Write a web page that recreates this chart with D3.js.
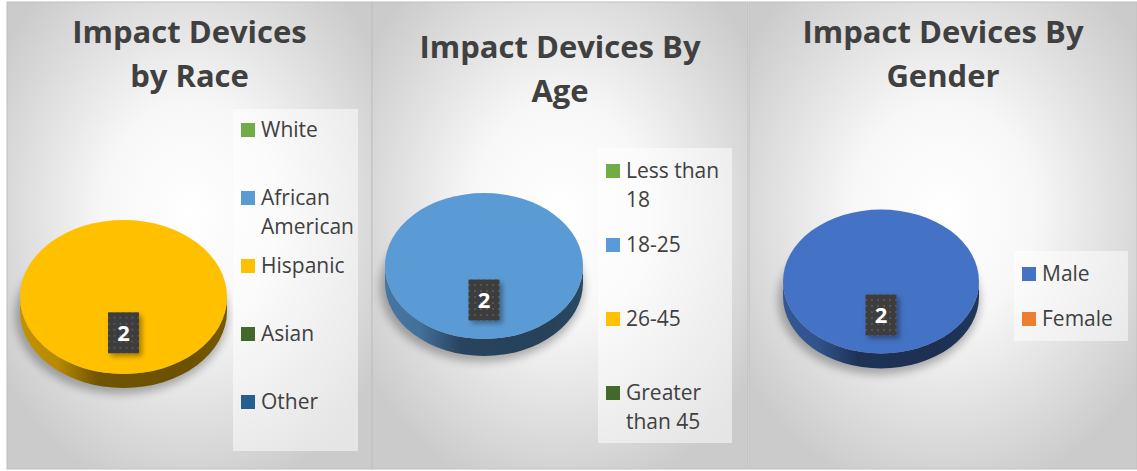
<!DOCTYPE html>
<html lang="en">
  <head>
    <meta charset="UTF-8" />
    <title>Impact Devices</title>
    <script src="https://d3js.org/d3.v7.min.js"></script>
    <style>
      body {
        margin: 0;
        background: #ffffff;
      }
      svg {
        display: block;
      }
    </style>
  </head>
  <body>
    <script>
      // Data
      const raceCategories = ["White", "African American", "Hispanic", "Asian", "Other"];
      const raceValues = [0, 0, 2, 0, 0];
      const raceColors = ["#70ad47", "#5b9bd5", "#ffc000", "#43682b", "#255e91"];

      const ageCategories = ["Less than 18", "18-25", "26-45", "Greater than 45"];
      const ageValues = [0, 2, 0, 0];
      const ageColors = ["#70ad47", "#5b9bd5", "#ffc000", "#43682b"];

      const genderCategories = ["Male", "Female"];
      const genderValues = [2, 0];
      const genderColors = ["#4472c4", "#ed7d31"];

      const titles = [
        ["Impact Devices", "by Race"],
        ["Impact Devices By", "Age"],
        ["Impact Devices By", "Gender"],
      ];

      // layout of the three panels
      const panels = [
        {
          cats: raceCategories, vals: raceValues, colors: raceColors, title: titles[0],
          x0: 7, x1: 372, titleY: 43,
          cx: 123.5, cy: 297, rx: 103.5, ry: 77, depth: 14,
          legend: { x: 233, y: 109, w: 125, h: 342, first: 130, step: 68 },
        },
        {
          cats: ageCategories, vals: ageValues, colors: ageColors, title: titles[1],
          x0: 372, x1: 748, titleY: 58,
          cx: 484, cy: 266, rx: 99, ry: 73, depth: 17,
          legend: { x: 598, y: 148, w: 134, h: 295, first: 171, step: 74 },
        },
        {
          cats: genderCategories, vals: genderValues, colors: genderColors, title: titles[2],
          x0: 749, x1: 1137, titleY: 43,
          cx: 881, cy: 281.5, rx: 98, ry: 72, depth: 15,
          legend: { x: 1014, y: 251, w: 114, h: 90, first: 274, step: 45 },
        },
      ];

      const width = 1137;
      const height = 471;
      const textColor = "#404040";

      const svg = d3.select("body").append("svg").attr("width", width).attr("height", height);
      const defs = svg.append("defs");

      // background highlight for every panel
      const bg = defs.append("radialGradient").attr("id", "panelBg").attr("cx", "50%").attr("cy", "45%").attr("r", "62%");
      bg.append("stop").attr("offset", "0%").attr("stop-color", "#ffffff");
      bg.append("stop").attr("offset", "38%").attr("stop-color", "#f7f7f7");
      bg.append("stop").attr("offset", "100%").attr("stop-color", "#cbcbcb");

      // dotted fill of the data label box
      const dots = defs.append("pattern").attr("id", "dots").attr("width", 6).attr("height", 6).attr("patternUnits", "userSpaceOnUse");
      dots.append("rect").attr("width", 6).attr("height", 6).attr("fill", "#3d3d3d");
      dots.append("rect").attr("x", 2).attr("y", 2).attr("width", 2).attr("height", 2).attr("fill", "#555555");

      const blur = defs.append("filter").attr("id", "pieShadow").attr("x", "-20%").attr("y", "-20%").attr("width", "140%").attr("height", "150%");
      blur.append("feGaussianBlur").attr("stdDeviation", 4);

      const boxShadow = defs.append("filter").attr("id", "boxShadow").attr("x", "-30%").attr("y", "-30%").attr("width", "180%").attr("height", "180%");
      boxShadow.append("feDropShadow").attr("dx", 3).attr("dy", 3).attr("stdDeviation", 2.5).attr("flood-color", "#000").attr("flood-opacity", 0.35);

      // scale an rgb colour by a factor (for the side of the pie)
      function shade(c, k) {
        const r = d3.rgb(c);
        return d3.rgb(r.r * k, r.g * k, r.b * k).formatHex();
      }

      const pie = d3.pie().sort(null).value((d) => d.value);

      panels.forEach((p, pi) => {
        const g = svg.append("g");

        g.append("rect")
          .attr("x", p.x0)
          .attr("y", 2)
          .attr("width", p.x1 - p.x0)
          .attr("height", 467)
          .attr("fill", "url(#panelBg)")
          .attr("stroke", "#c0c0c0")
          .attr("stroke-width", 1);

        // title
        g.append("text")
          .attr("x", (p.x0 + p.x1) / 2)
          .attr("y", p.titleY)
          .attr("text-anchor", "middle")
          .style("font-family", "'Open Sans', sans-serif")
          .style("font-weight", "bold")
          .style("font-size", "31px")
          .style("fill", textColor)
          .selectAll("tspan")
          .data(p.title)
          .enter()
          .append("tspan")
          .attr("x", (p.x0 + p.x1) / 2)
          .attr("dy", (d, i) => (i === 0 ? 0 : 44))
          .text((d) => d);

        const data = p.cats.map((c, i) => ({ name: c, value: p.vals[i], color: p.colors[i] }));
        const arcs = pie(data).filter((a) => a.endAngle > a.startAngle);
        const k = p.ry / p.rx;

        const pieG = g.append("g").attr("transform", `translate(${p.cx},${p.cy})`);

        // soft shadow under the disc
        pieG.append("ellipse")
          .attr("cx", -2)
          .attr("cy", p.depth + 4)
          .attr("rx", p.rx + 3)
          .attr("ry", p.ry + 2)
          .attr("fill", "#000")
          .attr("opacity", 0.28)
          .attr("filter", "url(#pieShadow)");

        // side walls (only the front half is visible)
        arcs.forEach((a, ai) => {
          const s = Math.max(a.startAngle, Math.PI / 2);
          const e = Math.min(a.endAngle, (3 * Math.PI) / 2);
          if (s >= e) return;
          const gid = `side${pi}_${ai}`;
          const lg = defs.append("linearGradient").attr("id", gid).attr("x1", "0%").attr("x2", "100%");
          [[0, 0.76], [0.18, 0.72], [0.38, 0.44], [0.8, 0.42], [1, 0.47]].forEach(([o, f]) => {
            lg.append("stop").attr("offset", o * 100 + "%").attr("stop-color", shade(a.data.color, f));
          });
          const pt = (ang, dy) => [Math.sin(ang) * p.rx, -Math.cos(ang) * p.ry + dy];
          const [x1, y1] = pt(s, 0);
          const [x2, y2] = pt(e, 0);
          const [x3, y3] = pt(e, p.depth);
          const [x4, y4] = pt(s, p.depth);
          pieG.append("path")
            .attr("d", `M${x1},${y1}A${p.rx},${p.ry} 0 0 1 ${x2},${y2}L${x3},${y3}A${p.rx},${p.ry} 0 0 0 ${x4},${y4}Z`)
            .attr("fill", `url(#${gid})`);
        });

        // top face
        const arc = d3.arc().innerRadius(0).outerRadius(p.rx);
        pieG.append("g")
          .attr("transform", `scale(1,${k})`)
          .selectAll("path")
          .data(arcs)
          .enter()
          .append("path")
          .attr("d", arc)
          .attr("fill", (d) => d.data.color);

        // data labels
        const labelArc = d3.arc().innerRadius(0).outerRadius(p.rx * 0.93);
        arcs.forEach((a) => {
          const [lx, ly] = labelArc.centroid(a);
          const lab = pieG.append("g").attr("transform", `translate(${lx},${ly * k})`);
          lab.append("rect")
            .attr("x", -15.5)
            .attr("y", -20.5)
            .attr("width", 31)
            .attr("height", 41)
            .attr("fill", "url(#dots)")
            .attr("filter", "url(#boxShadow)");
          lab.append("text")
            .attr("text-anchor", "middle")
            .attr("dy", "0.36em")
            .style("font-family", "'Open Sans', sans-serif")
            .style("font-weight", "bold")
            .style("font-size", "22px")
            .style("fill", "#ffffff")
            .text(a.data.value);
        });

        // legend
        const L = p.legend;
        g.append("rect")
          .attr("x", L.x)
          .attr("y", L.y)
          .attr("width", L.w)
          .attr("height", L.h)
          .attr("fill", "#ffffff")
          .attr("opacity", 0.5);

        const item = g.selectAll(".legend" + pi)
          .data(data)
          .enter()
          .append("g")
          .attr("transform", (d, i) => `translate(${L.x + 8},${L.first + i * L.step})`);

        item.append("rect")
          .attr("x", 0)
          .attr("y", -7)
          .attr("width", 14)
          .attr("height", 14)
          .attr("fill", (d) => d.color);

        const maxW = L.w - 28;
        item.each(function (d) {
          const t = d3.select(this)
            .append("text")
            .attr("x", 20)
            .attr("y", 7)
            .style("font-family", "'Open Sans', sans-serif")
            .style("font-size", "21px")
            .style("fill", "#404040");
          // wrap the label word by word
          const words = d.name.split(" ");
          let line = [];
          let tspan = t.append("tspan").attr("x", 20).attr("dy", 0);
          words.forEach((w) => {
            line.push(w);
            tspan.text(line.join(" "));
            if (tspan.node().getComputedTextLength() > maxW && line.length > 1) {
              line.pop();
              tspan.text(line.join(" "));
              line = [w];
              tspan = t.append("tspan").attr("x", 20).attr("dy", 29).text(w);
            }
          });
        });
      });
    </script>
  </body>
</html>
